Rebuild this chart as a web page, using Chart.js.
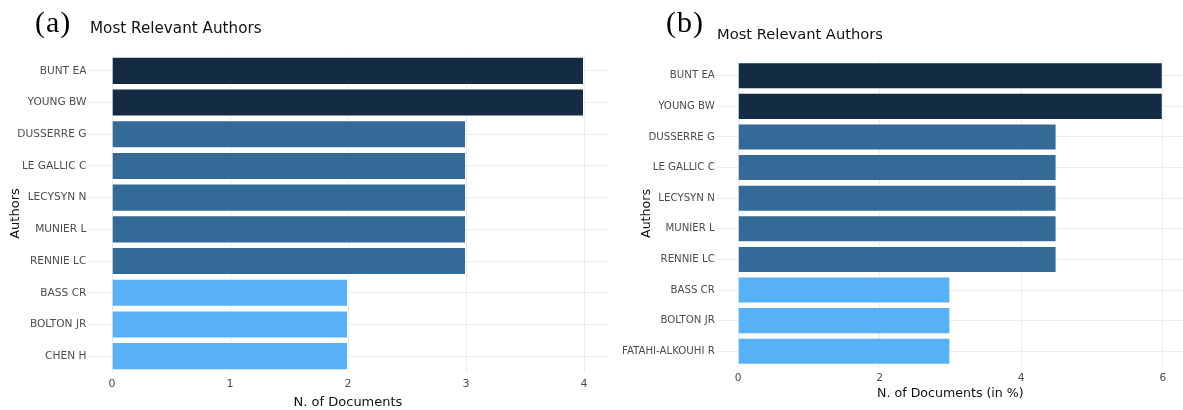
<!DOCTYPE html>
<html><head><meta charset="utf-8">
<script src="https://cdn.jsdelivr.net/npm/chart.js@4/dist/chart.umd.min.js"></script>
<style>
html,body{margin:0;padding:0;background:#fff;overflow:hidden;width:1183px;height:410px;}
#wrap{position:relative;width:1183px;height:410px;overflow:hidden;}
.panel{position:absolute;top:0;}
.lab{position:absolute;font-family:"Liberation Serif","Times New Roman",serif;line-height:1;color:#000;white-space:nowrap;letter-spacing:1px;}
.ttl{position:absolute;font-family:"DejaVu Sans",sans-serif;line-height:1;color:#111;white-space:nowrap;}
</style></head>
<body><div id="wrap">
<div class="panel" style="left:0;width:620px;height:410px"><canvas id="ca" width="620" height="410"></canvas></div>
<div class="panel" style="left:620px;width:564px;height:410px"><canvas id="cb" width="564" height="410"></canvas></div>
<div class="lab" style="left:35px;top:7px;font-size:30px">(a)</div>
<div class="ttl" style="left:90px;top:21px;font-size:15.2px">Most Relevant Authors</div>
<div class="lab" style="left:666px;top:7px;font-size:30px">(b)</div>
<div class="ttl" style="left:717px;top:27px;font-size:14.7px">Most Relevant Authors</div>
</div>
<script>
// ---- data ----
const authorsA = ['BUNT EA','YOUNG BW','DUSSERRE G','LE GALLIC C','LECYSYN N','MUNIER L','RENNIE LC','BASS CR','BOLTON JR','CHEN H'];
const documentsA = [4,4,3,3,3,3,3,2,2,2];
const xTicksA = [0,1,2,3,4];

const authorsB = ['BUNT EA','YOUNG BW','DUSSERRE G','LE GALLIC C','LECYSYN N','MUNIER L','RENNIE LC','BASS CR','BOLTON JR','FATAHI-ALKOUHI R'];
const documentsPctB = [6,6,4.5,4.5,4.5,4.5,4.5,3,3,3];
const xTicksB = [0,2,4,6];

// ---- colour scale (low value = light blue, high value = dark navy) ----
const stops = [[86,177,247],[51,106,152],[19,43,67]];
function colourScale(t){
  const seg = t*(stops.length-1);
  const i = Math.min(Math.floor(seg), stops.length-2);
  const f = seg - i;
  const c = stops[i].map((v,k)=>Math.round(v + (stops[i+1][k]-v)*f));
  return 'rgb(' + c.join(',') + ')';
}

function makeChart(id, labels, values, ticks, o){
  const vmin = Math.min(...values), vmax = Math.max(...values);
  const colors = values.map(v => colourScale((v - vmin)/(vmax - vmin)));
  return new Chart(document.getElementById(id), {
    type:'bar',
    data:{labels:labels, datasets:[{data:values, backgroundColor:colors,
      borderColor:'rgba(255,255,255,0.45)', borderWidth:1,
      categoryPercentage:1, barPercentage:0.885}]},
    options:{
      indexAxis:'y', responsive:false, maintainAspectRatio:false, animation:false,
      layout:{padding:{left:0, right:o.padRight, top:o.top, bottom:0}},
      plugins:{legend:{display:false}, tooltip:{enabled:false}},
      scales:{
        x:{type:'linear', min:o.xmin, max:o.xmax,
          afterBuildTicks:s=>{s.ticks = ticks.map(v=>({value:v}));},
          afterFit:s=>{s.height = o.xh;},
          grid:{color:'#EBEBEB', lineWidth:1, drawTicks:false},
          border:{display:false},
          ticks:{padding:o.xtp, color:'#4D4D4D', font:{family:'DejaVu Sans', size:o.tick}},
          title:{display:true, text:o.xtitle, color:'#111', font:{family:'DejaVu Sans', size:o.axt, lineHeight:1.2}, padding:{top:0, bottom:o.xtpb}}
        },
        y:{
          afterFit:s=>{s.width = o.yw;},
          grid:{offset:false, color:'#EBEBEB', lineWidth:1, drawTicks:false},
          border:{display:false},
          ticks:{padding:2, autoSkip:false, color:'#4D4D4D', font:{family:'DejaVu Sans', size:o.ytick}},
          title:{display:true, text:'Authors', color:'#111', font:{family:'DejaVu Sans', size:o.axt, lineHeight:1.2}, padding:{top:o.ytp, bottom:0}}
        }
      }
    }
  });
}

makeChart('ca', authorsA, documentsA, xTicksA,
  {padRight:12.4, top:55, xmin:-0.2, xmax:4.2, xh:38, xtp:5.5, tick:11, ytick:10.6, axt:13,
   xtitle:'N. of Documents', xtpb:-0.5, yw:88.4, ytp:8});
makeChart('cb', authorsB, documentsPctB, xTicksB,
  {padRight:0, top:60.4, xmin:-0.3, xmax:6.3, xh:43.4, xtp:5, tick:10.6, ytick:10.2, axt:12.6,
   xtitle:'N. of Documents (in %)', xtpb:8.4, yw:96.8, ytp:19.4});
</script>
</body></html>
